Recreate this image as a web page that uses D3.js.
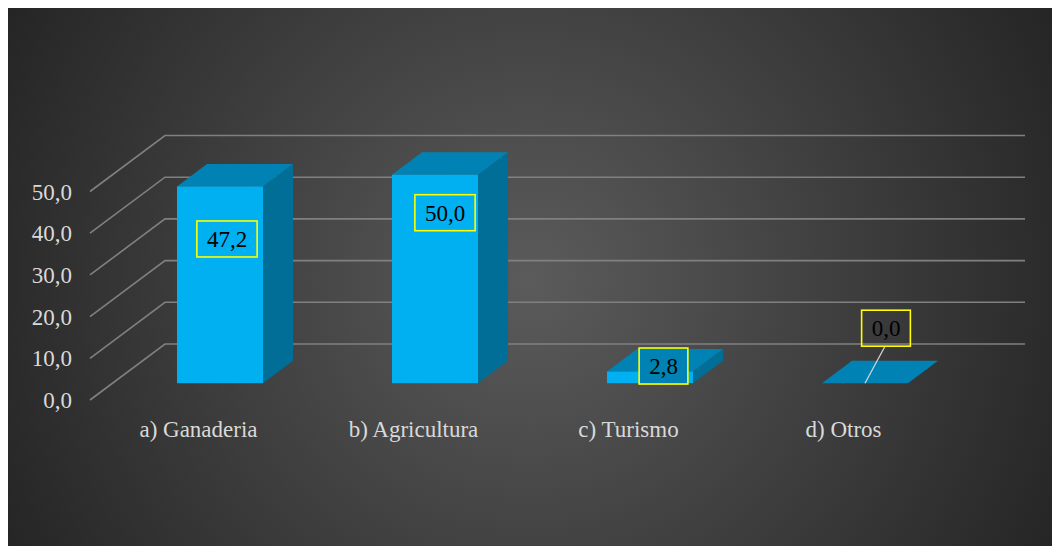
<!DOCTYPE html>
<html>
<head>
<meta charset="utf-8">
<script src="https://cdn.jsdelivr.net/npm/d3@7"></script>
<style>
  html, body { margin: 0; padding: 0; background: #ffffff; }
  svg { display: block; }
  svg text { font-family: "Liberation Serif", "Times New Roman", Times, "DejaVu Serif", serif; }
</style>
</head>
<body>
<svg id="chart" width="1052" height="546"></svg>
<script>
// Chart data
const categories = ["a) Ganaderia", "b) Agricultura", "c) Turismo", "d) Otros"];
const values = [47.2, 50.0, 2.8, 0.0];
const tickValues = [0, 10, 20, 30, 40, 50];

// Layout
const W = 1052, H = 546;
const panel = { x: 8, y: 8, w: W - 8, h: H - 8 };
const front = { left: 90, right: 950, bottom: 400, top: 191.5 };
const depth = { dx: 75, dy: -56 };          // floor depth offset (back wall)
const barDepth = [0.3, 0.7];                 // bar occupies the middle of the floor depth

// Manual nudges for the value labels (relative to the bar's front-top centre)
const labelNudge = [[7, 52.6], [10, 38], [13.5, -5.5], [21, -55]];
const labelFill = [null, null, "#0083b4", null];

const colors = {
  front: "#00b0f0",
  top: "#0083b4",
  side: "#006e96",
  grid: "#808080",
  text: "#d9d9d9"
};

const locale = d3.formatLocale({ decimal: ",", thousands: ".", grouping: [3], currency: ["", ""] });
const fmt = locale.format(".1f");

const svg = d3.select("#chart");

// Background panel with radial shading
const defs = svg.append("defs");
const grad = defs.append("radialGradient")
  .attr("id", "bg")
  .attr("gradientUnits", "userSpaceOnUse")
  .attr("cx", 530).attr("cy", 280).attr("r", 600);
grad.append("stop").attr("offset", 0).attr("stop-color", "#5b5b5b");
grad.append("stop").attr("offset", 1).attr("stop-color", "#242424");

svg.append("rect")
  .attr("x", panel.x).attr("y", panel.y)
  .attr("width", panel.w).attr("height", panel.h)
  .attr("fill", "url(#bg)");

// Scales (front plane)
const x = d3.scaleBand()
  .domain(categories)
  .range([front.left, front.right])
  .paddingInner(0.6)
  .paddingOuter(0.3);

const y = d3.scaleLinear()
  .domain([0, 50])
  .range([front.bottom, front.top]);

// Project a front-plane point to a given depth fraction
const proj = (px, py, d) => [px + depth.dx * d, py + depth.dy * d];

// Gridlines: diagonal on the left floor/side, horizontal on the back wall
const grid = svg.append("g")
  .attr("stroke", colors.grid)
  .attr("stroke-width", 1.6)
  .attr("fill", "none");

tickValues.forEach(v => {
  const p0 = proj(front.left, y(v), 0);
  const p1 = proj(front.left, y(v), 1);
  const p2 = proj(front.right, y(v), 1);
  grid.append("path")
    .attr("d", d3.line()([p0, p1, p2]));
});

// Y axis tick labels
svg.append("g")
  .selectAll("text")
  .data(tickValues)
  .join("text")
  .attr("x", 72)
  .attr("y", d => y(d) + 8)
  .attr("text-anchor", "end")
  .attr("font-size", 23)
  .attr("fill", colors.text)
  .text(d => fmt(d));

// Category labels
svg.append("g")
  .selectAll("text")
  .data(categories)
  .join("text")
  .attr("x", d => x(d) + x.bandwidth() / 2 + 1)
  .attr("y", 437)
  .attr("text-anchor", "middle")
  .attr("font-size", 23)
  .attr("fill", colors.text)
  .text(d => d);

// 3D bars
const bars = svg.append("g");
categories.forEach((c, i) => {
  const v = values[i];
  const xl = x(c), xr = x(c) + x.bandwidth();
  const yb = y(0), yt = y(v);
  const [d0, d1] = barDepth;
  const g = bars.append("g");

  // right side face
  if (v > 0) {
    g.append("path")
      .attr("d", d3.line()([proj(xr, yb, d0), proj(xr, yb, d1), proj(xr, yt, d1), proj(xr, yt, d0)]) + "Z")
      .attr("fill", colors.side);
  }
  // top face
  g.append("path")
    .attr("d", d3.line()([proj(xl, yt, d0), proj(xr, yt, d0), proj(xr, yt, d1), proj(xl, yt, d1)]) + "Z")
    .attr("fill", colors.top);
  // front face
  if (v > 0) {
    const [fx, fy] = proj(xl, yt, d0);
    g.append("rect")
      .attr("x", fx).attr("y", fy)
      .attr("width", xr - xl)
      .attr("height", yb - yt)
      .attr("fill", colors.front);
  }
});

// Value labels with yellow frames
const labels = svg.append("g");
categories.forEach((c, i) => {
  const v = values[i];
  const cx = x(c) + x.bandwidth() / 2;
  const [ax, ay] = proj(cx, y(v), barDepth[0]);
  const lx = ax + labelNudge[i][0];
  const ly = ay + labelNudge[i][1];
  const g = labels.append("g");

  const t = g.append("text")
    .attr("x", lx)
    .attr("y", ly + 8)
    .attr("text-anchor", "middle")
    .attr("font-size", 23)
    .attr("fill", "#000000")
    .text(fmt(v));

  const tw = t.node().getComputedTextLength();
  const bw = tw + 20, bh = 36;

  // leader line when the label is moved away from its bar
  if (labelNudge[i][1] < -bh) {
    g.insert("line", "text")
      .attr("x1", lx - 1).attr("y1", ly + bh / 2)
      .attr("x2", ax).attr("y2", ay)
      .attr("stroke", "#d9d9d9")
      .attr("stroke-width", 1.2);
  }

  g.insert("rect", "text")
    .attr("x", lx - bw / 2)
    .attr("y", ly - bh / 2)
    .attr("width", bw)
    .attr("height", bh)
    .attr("fill", labelFill[i] || "none")
    .attr("stroke", "#ffff00")
    .attr("stroke-width", 1.6);
});
</script>
</body>
</html>
